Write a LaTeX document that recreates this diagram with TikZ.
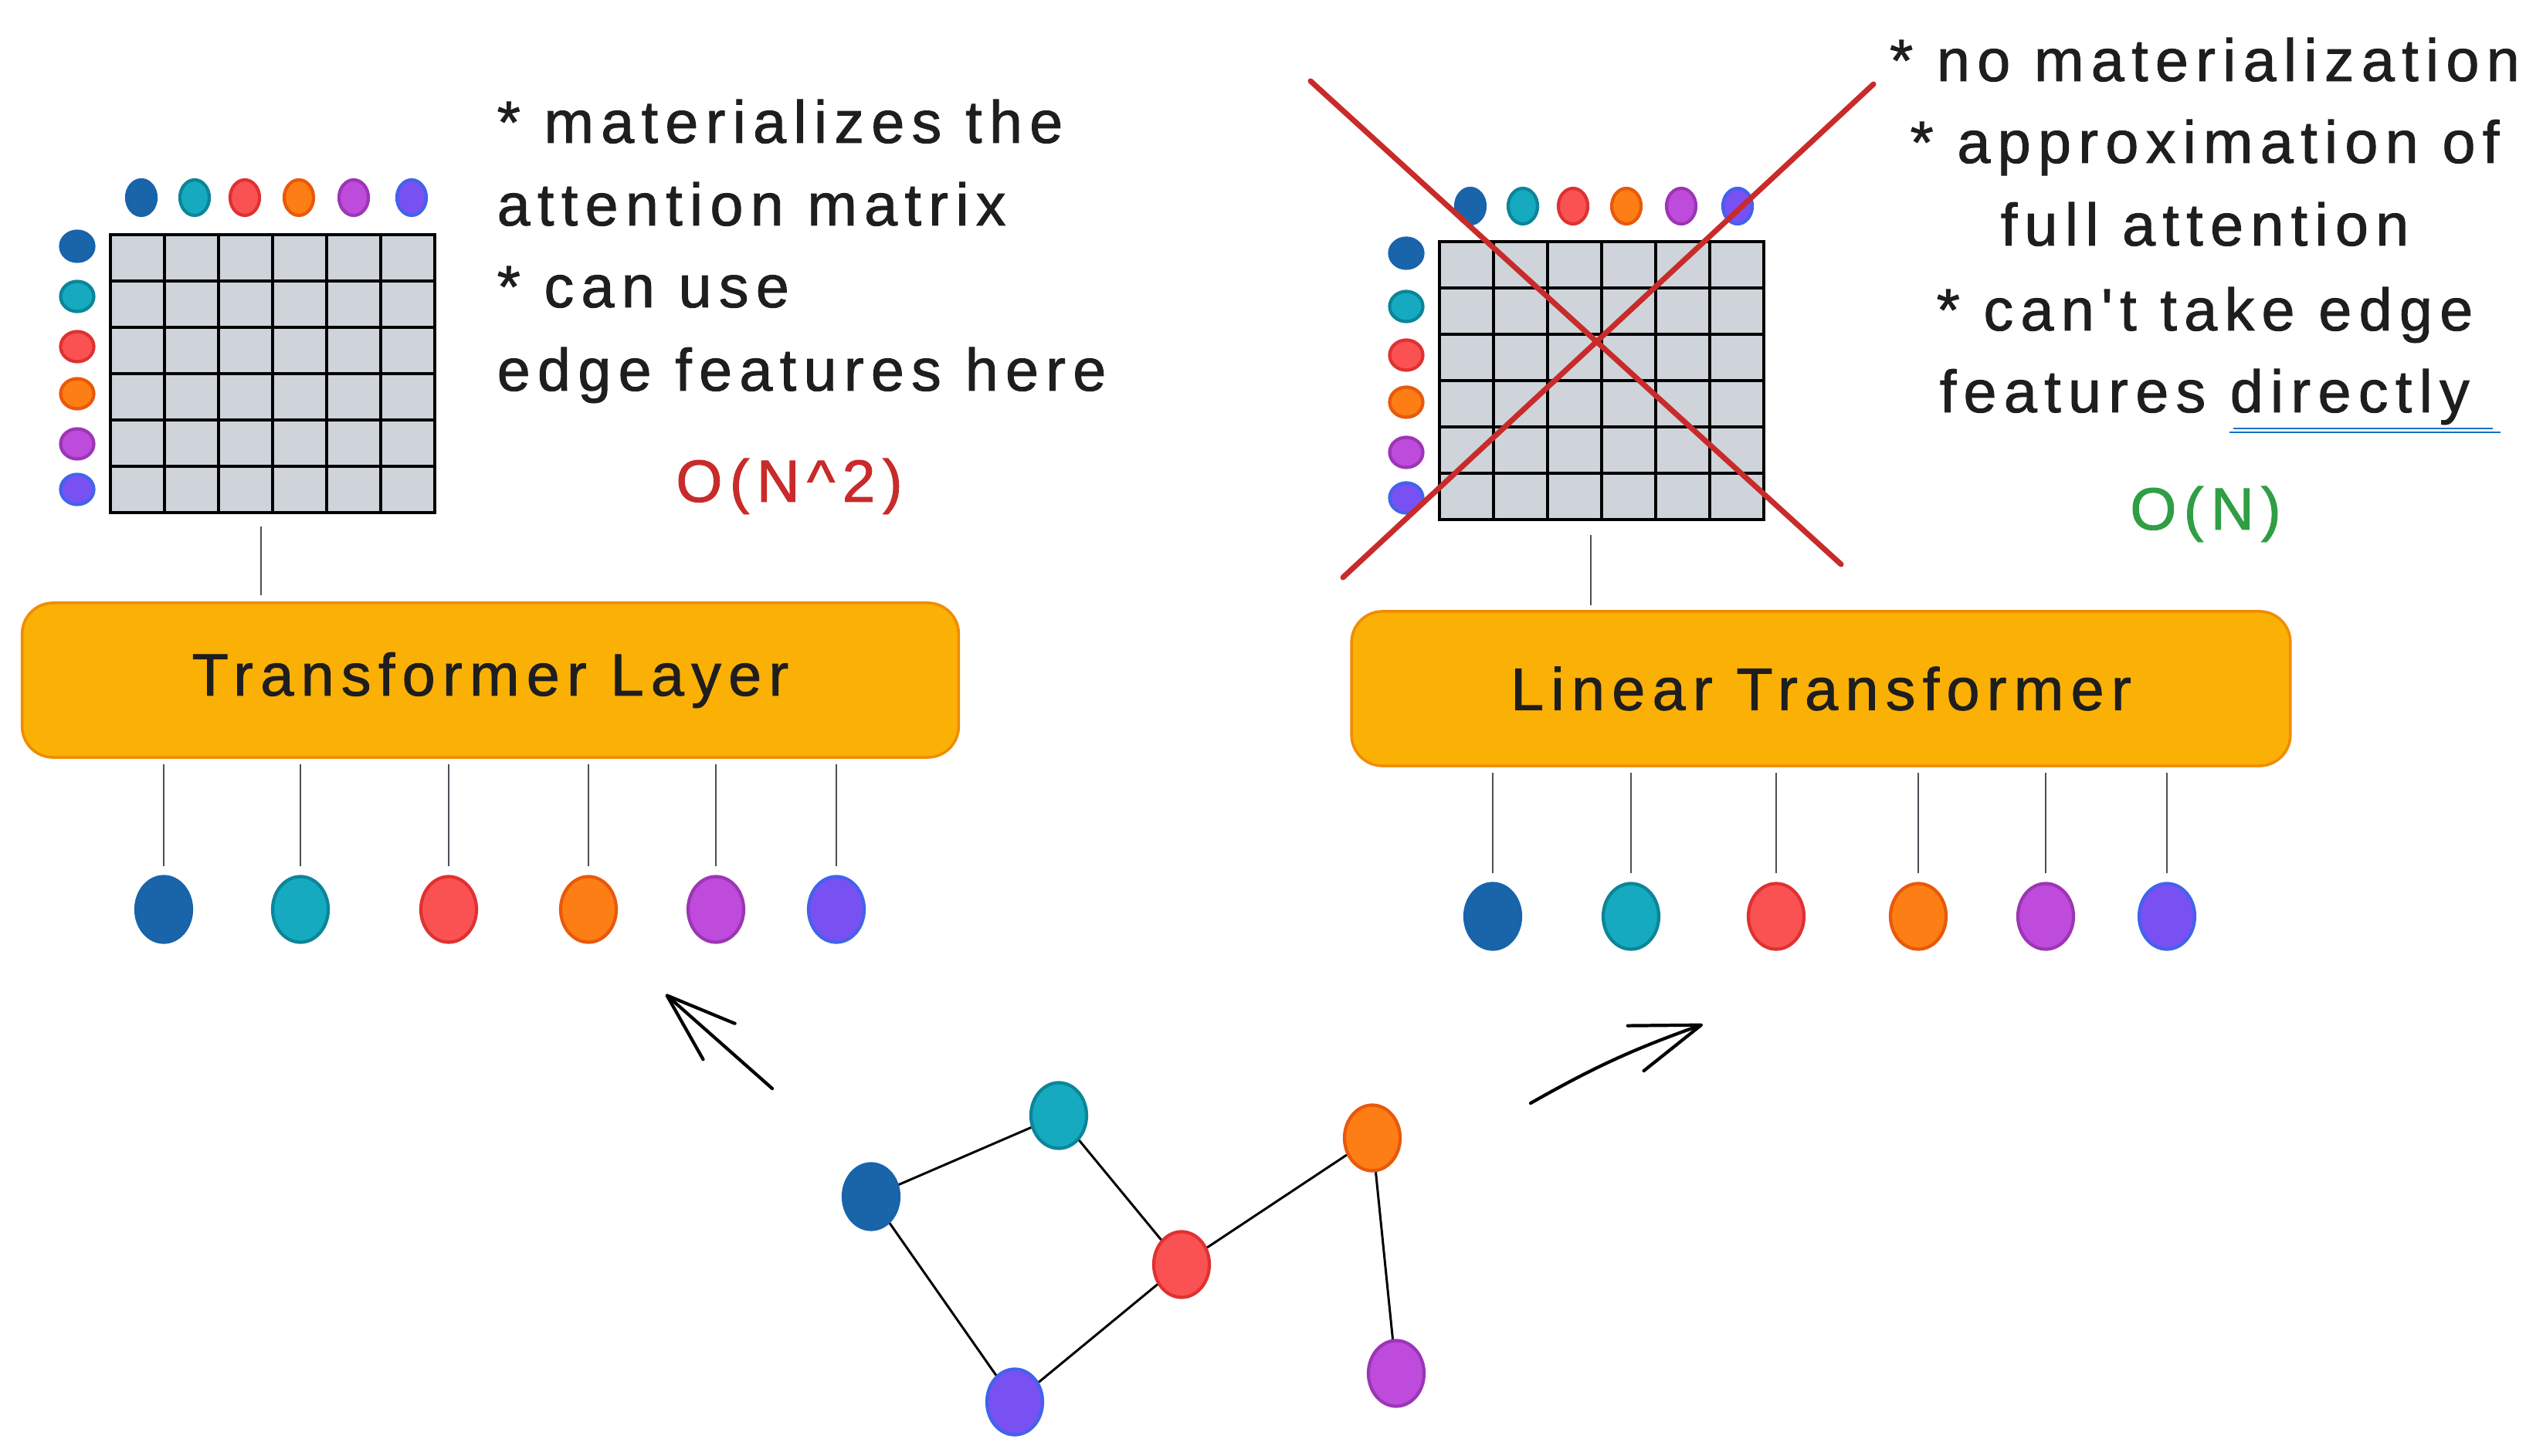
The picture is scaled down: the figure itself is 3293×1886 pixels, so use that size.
\documentclass[tikz,border=0pt]{standalone}
\usepackage{fontspec}
\usetikzlibrary{shapes.geometric,arrows.meta,calc}
\newfontfamily\hand[LetterSpace=12,FakeBold=1.2]{Liberation Sans}
\definecolor{ink}{HTML}{1E1E1E}
\definecolor{cblueF}{HTML}{1A65A9}\definecolor{cblueD}{HTML}{1864AB}
\definecolor{ctealF}{HTML}{15AABF}\definecolor{ctealD}{HTML}{0C8599}
\definecolor{credF}{HTML}{FA5252}\definecolor{credD}{HTML}{E03131}
\definecolor{corgF}{HTML}{FD7E14}\definecolor{corgD}{HTML}{E8590C}
\definecolor{cpurF}{HTML}{BE4BDB}\definecolor{cpurD}{HTML}{9C36B5}
\definecolor{cvioF}{HTML}{7950F2}\definecolor{cvioD}{HTML}{4263EB}
\definecolor{gridgray}{HTML}{CED4DA}
\definecolor{layerF}{HTML}{FAB005}\definecolor{layerD}{HTML}{F08C00}
\definecolor{xred}{HTML}{C92A2A}
\definecolor{okgreen}{HTML}{2F9E44}
\definecolor{ulblue}{HTML}{1971C2}
\definecolor{connc}{HTML}{495057}
\begin{document}
\begin{tikzpicture}[x=0.01cm,y=-0.01cm,
  txt/.style={font=\hand\fontsize{22pt}{30pt}\selectfont, text=ink, inner sep=0pt},
  dotb/.style={ellipse, inner sep=0pt, line width=1.2pt},
  bigdot/.style={dotb, minimum width=0.72cm, minimum height=0.85cm},
  topdot/.style={dotb, minimum width=0.38cm, minimum height=0.46cm},
  sidedot/.style={dotb, minimum width=0.43cm, minimum height=0.39cm},
  cA/.style={fill=cblueF, draw=cblueD},
  cB/.style={fill=ctealF, draw=ctealD},
  cC/.style={fill=credF, draw=credD},
  cD/.style={fill=corgF, draw=corgD},
  cE/.style={fill=cpurF, draw=cpurD},
  cF/.style={fill=cvioF, draw=cvioD},
  matbox/.style={rectangle, fill=gridgray, draw=black, line width=1.1pt, inner sep=0pt, outer sep=0pt, minimum width=4.2cm, minimum height=3.6cm},
  gridline/.style={draw=black, line width=1.1pt},
  layer/.style={rectangle, rounded corners=0.4cm, fill=layerF, draw=layerD, line width=1pt, minimum height=2.0cm, font=\hand\fontsize{22pt}{26pt}\selectfont, text=ink},
  conn/.style={draw=connc, line width=0.7pt},
  edgeline/.style={draw=black, line width=0.85pt},
  sketcharrow/.style={draw=black, line width=1.2pt, line cap=round, -{Straight Barb[length=0.9cm, width=0.62cm, round]}},
  cross/.style={draw=xred, line width=2pt, line cap=round}
]
\useasboundingbox (0,0) rectangle (3293,1886);
\fill[white] (0,0) rectangle (3293,1886);

% ---------- left attention matrix ----------
\node[matbox, anchor=north west] (lmat) at (143,304) {};
\foreach \i in {1,...,5} {
  \draw[gridline] (143+\i*70,304) -- (143+\i*70,664);
  \draw[gridline] (143,304+\i*60) -- (563,304+\i*60);
}
\node[topdot, cA] (lt1) at (183,256) {};
\node[topdot, cB] (lt2) at (252,256) {};
\node[topdot, cC] (lt3) at (317,256) {};
\node[topdot, cD] (lt4) at (387,256) {};
\node[topdot, cE] (lt5) at (458,256) {};
\node[topdot, cF] (lt6) at (533,256) {};
\node[sidedot, cA] (ls1) at (100,319) {};
\node[sidedot, cB] (ls2) at (100,384) {};
\node[sidedot, cC] (ls3) at (100,449) {};
\node[sidedot, cD] (ls4) at (100,510) {};
\node[sidedot, cE] (ls5) at (100,575) {};
\node[sidedot, cF] (ls6) at (100,634) {};

% ---------- right attention matrix ----------
\node[matbox, anchor=north west] (rmat) at (1864,313) {};
\foreach \i in {1,...,5} {
  \draw[gridline] (1864+\i*70,313) -- (1864+\i*70,673);
  \draw[gridline] (1864,313+\i*60) -- (2284,313+\i*60);
}
\node[topdot, cA] (rt1) at (1904,267) {};
\node[topdot, cB] (rt2) at (1972,267) {};
\node[topdot, cC] (rt3) at (2037,267) {};
\node[topdot, cD] (rt4) at (2106,267) {};
\node[topdot, cE] (rt5) at (2177,267) {};
\node[topdot, cF] (rt6) at (2250,267) {};
\node[sidedot, cA] (rs1) at (1821,328) {};
\node[sidedot, cB] (rs2) at (1821,397) {};
\node[sidedot, cC] (rs3) at (1821,460) {};
\node[sidedot, cD] (rs4) at (1821,521) {};
\node[sidedot, cE] (rs5) at (1821,586) {};
\node[sidedot, cF] (rs6) at (1821,645) {};

% red cross
\coordinate (xa1) at (1697,105);
\coordinate (xa2) at (2384,731);
\coordinate (xb1) at (2426,109);
\coordinate (xb2) at (1739,748);
\draw[cross] (xa1) -- (xa2);
\draw[cross] (xb1) -- (xb2);

% ---------- layer boxes ----------
\node[layer, minimum width=12.12cm] (lbox) at (635,881) {Transformer Layer};
\node[layer, minimum width=12.15cm] (rbox) at (2358,892) {Linear Transformer};

\coordinate (lcx) at (338,700);
\coordinate (rcx) at (2060,700);
\draw[conn, shorten <=0.18cm, shorten >=0.08cm] (lmat.south -| lcx) -- (lbox.north -| lcx);
\draw[conn, shorten <=0.2cm, shorten >=0.06cm] (rmat.south -| rcx) -- (rbox.north -| rcx);

% ---------- token dots below ----------
\node[bigdot, cA] (lb1) at (212,1178) {};
\node[bigdot, cB] (lb2) at (389,1178) {};
\node[bigdot, cC] (lb3) at (581,1178) {};
\node[bigdot, cD] (lb4) at (762,1178) {};
\node[bigdot, cE] (lb5) at (927,1178) {};
\node[bigdot, cF] (lb6) at (1083,1178) {};
\node[bigdot, cA] (rb1) at (1933,1187) {};
\node[bigdot, cB] (rb2) at (2112,1187) {};
\node[bigdot, cC] (rb3) at (2300,1187) {};
\node[bigdot, cD] (rb4) at (2484,1187) {};
\node[bigdot, cE] (rb5) at (2649,1187) {};
\node[bigdot, cF] (rb6) at (2806,1187) {};
\foreach \n in {1,...,6} {
  \draw[conn, shorten <=0.11cm, shorten >=0.07cm] (lb\n.north) -- (lb\n.north |- lbox.south);
  \draw[conn, shorten <=0.11cm, shorten >=0.07cm] (rb\n.north) -- (rb\n.north |- rbox.south);
}

% ---------- left notes ----------
\node[txt, anchor=base west] (lt1txt) at (643,185) {* materializes the};
\node[txt, anchor=base west] (lt2txt) at (643,292) {attention matrix};
\node[txt, anchor=base west] (lt3txt) at (643,398) {* can use};
\node[txt, anchor=base west] (lt4txt) at (643,506) {edge features here};
\node[txt, anchor=base, text=xred] (lcost) at (1022,650) {O(N\char`\^2)};

% ---------- right notes ----------
\node[txt, anchor=base] (rt1txt) at (2855,105) {* no materialization};
\node[txt, anchor=base] (rt2txt) at (2855,211) {* approximation of};
\node[txt, anchor=base] (rt3txt) at (2855,318) {full attention};
\node[txt, anchor=base] (rt4txt) at (2855,428) {* can't take edge};
\node[txt, anchor=base east] (rt5a) at (2857,534) {features};
\node[txt, anchor=base west] (rt5b) at (2887,534) {directly};
\draw[draw=ulblue, line width=0.7pt] ($(rt5b.base west)+(5,21)$) -- ($(rt5b.base east)+(30,21)$);
\draw[draw=ulblue, line width=0.7pt] ($(rt5b.base west)+(0,26)$) -- ($(rt5b.base east)+(40,26)$);
\node[txt, anchor=base, text=okgreen] (rcost) at (2856,686) {O(N)};

% ---------- input graph ----------
\node[bigdot, cA] (g1) at (1128,1550) {};
\node[bigdot, cB] (g2) at (1371,1445) {};
\node[bigdot, cC] (g3) at (1530,1638) {};
\node[bigdot, cD] (g4) at (1777,1474) {};
\node[bigdot, cE] (g5) at (1808,1779) {};
\node[bigdot, cF] (g6) at (1314,1816) {};
\draw[edgeline] (g1) -- (g2);
\draw[edgeline] (g1) -- (g6);
\draw[edgeline] (g2) -- (g3);
\draw[edgeline] (g3) -- (g6);
\draw[edgeline] (g3) -- (g4);
\draw[edgeline] (g4) -- (g5);

% ---------- arrows ----------
\coordinate (la0) at (1000,1410);
\coordinate (la1) at (862,1288);
\coordinate (ra0) at (1982,1429);
\coordinate (ra1) at (2205,1327);
\draw[sketcharrow] (la0) -- (la1);
\draw[sketcharrow] (ra0) to[bend left=5] (ra1);
\end{tikzpicture}
\end{document}
